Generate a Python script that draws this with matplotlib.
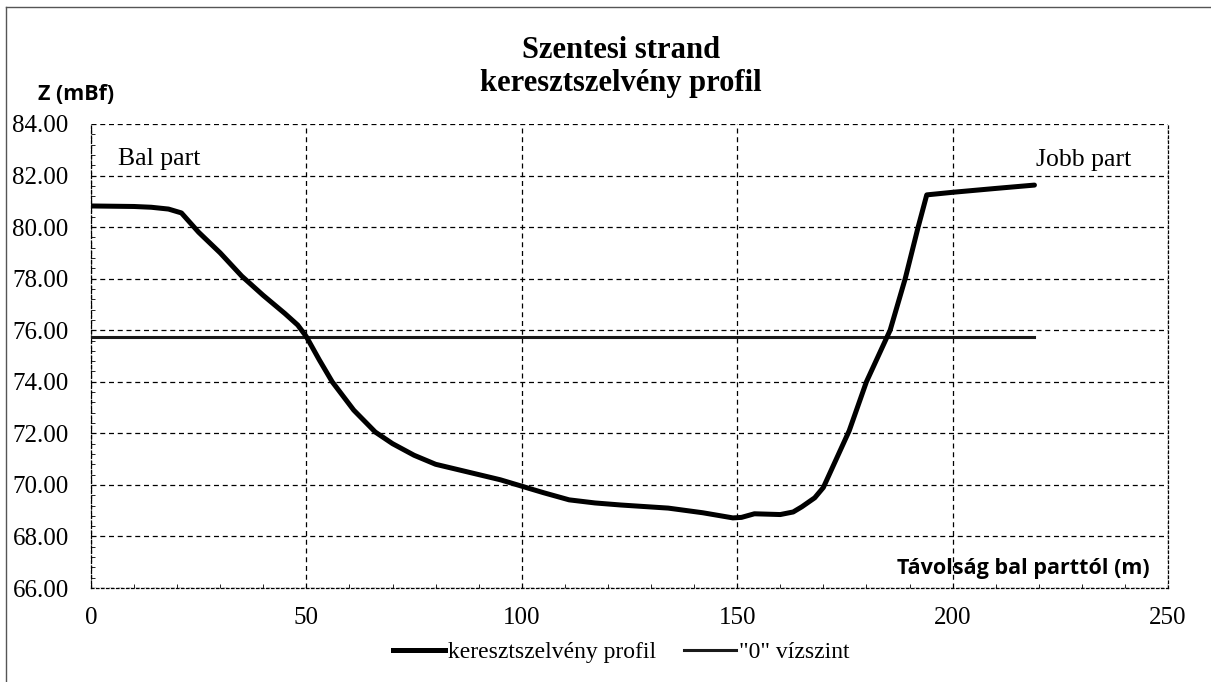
import numpy as np
import matplotlib
matplotlib.use("Agg")
import matplotlib.pyplot as plt
from matplotlib.lines import Line2D
from matplotlib.ticker import MultipleLocator

# =============================================================================
# data
# =============================================================================
dist = [0, 10, 14, 18, 21, 25, 30, 35, 40, 45, 48, 50, 53, 56, 61, 66, 70,
        75, 80, 85, 90, 95, 100, 105, 111, 117, 123, 134, 142, 149, 151, 154,
        160, 163, 165, 168, 170, 173, 176, 180, 185.5, 189, 192, 194, 200,
        210, 219]
elev = [80.82, 80.8, 80.77, 80.7, 80.55, 79.8, 79.0, 78.1, 77.35, 76.65,
        76.2, 75.75, 74.85, 74.0, 72.9, 72.05, 71.6, 71.15, 70.8, 70.6, 70.4,
        70.2, 69.95, 69.7, 69.42, 69.3, 69.22, 69.1, 68.92, 68.72, 68.74,
        68.88, 68.85, 68.95, 69.15, 69.5, 69.9, 71.0, 72.1, 74.0, 76.0, 78.0,
        80.0, 81.25, 81.35, 81.5, 81.63]

zero_x = [0, 219]
zero_y = [75.75, 75.75]

xticks = [0, 50, 100, 150, 200, 250]
yticks = [66, 68, 70, 72, 74, 76, 78, 80, 82, 84]

# =============================================================================
# plot
# =============================================================================
serif = ["Liberation Serif", "DejaVu Serif"]
sans = ["Open Sans", "DejaVu Sans"]

fig = plt.figure(figsize = (12.11, 6.82), dpi = 100)
ax = fig.add_axes([0.0751, 0.1378, 0.8894, 0.6804])

ax.plot(dist, elev, color = "black", lw = 3.6, solid_capstyle = "round",
        solid_joinstyle = "round", zorder = 5, label = "keresztszelvény profil")
ax.plot(zero_x, zero_y, color = "#1a1a1a", lw = 2.2, zorder = 4,
        label = '"0" vízszint')

ax.set_xlim(0, 250)
ax.set_ylim(66, 84)
ax.set_xticks(xticks)
ax.set_yticks(yticks)
ax.set_xticklabels([str(t) for t in xticks], family = serif, fontsize = 18)
ax.set_yticklabels(["%.2f" % t for t in yticks], family = serif, fontsize = 18)
ax.xaxis.set_minor_locator(MultipleLocator(10))
ax.yaxis.set_minor_locator(MultipleLocator(0.4))
ax.tick_params(which = "major", length = 0)
ax.tick_params(axis = "y", pad = 16)
ax.tick_params(axis = "x", pad = 14)
ax.tick_params(which = "minor", direction = "in", length = 3, width = 0.6)

ax.grid(True, which = "major", color = "black", lw = 0.9,
        linestyle = (0, (4, 3)))
for s in ax.spines.values():
    s.set_linestyle((0, (2, 2)))
    s.set_linewidth(0.9)
ax.spines["top"].set_visible(False)

# labels
fig.text(0.513, 1 - 50 / 682, "Szentesi strand", ha = "center", va = "center",
         family = serif, fontsize = 22, fontweight = "bold")
fig.text(0.513, 1 - 83 / 682, "keresztszelvény profil", ha = "center",
         va = "center", family = serif, fontsize = 22, fontweight = "bold")
fig.text(38 / 1211, 1 - 95 / 682, "Z (mBf)", ha = "left", va = "center",
         family = sans, fontsize = 15.5, fontweight = "bold")

ax.text(6.2, 82.66, "Bal part", family = serif, fontsize = 18.5,
        ha = "left", va = "center")
ax.text(219.3, 82.62, "Jobb part", family = serif, fontsize = 18.5,
        ha = "left", va = "center")
ax.text(245.7, 66.74, "Távolság bal parttól (m)", family = sans,
        fontsize = 15.5, fontweight = "bold", ha = "right", va = "center")

# legend
handles = [Line2D([], [], color = "black", lw = 3.6),
           Line2D([], [], color = "#1a1a1a", lw = 2.2)]
fig.legend(handles, ["keresztszelvény profil", '"0" vízszint'],
           loc = "center", bbox_to_anchor = (0.513, 0.043), ncol = 2,
           frameon = False, handlelength = 2.2, handletextpad = 0.1,
           columnspacing = 1.2, prop = {"family": serif, "size": 17})

# outer chart border from the scan
fig.add_artist(Line2D([0.005, 0.005], [0, 0.99], transform = fig.transFigure,
                      color = "#555555", lw = 1.0))
fig.add_artist(Line2D([0.005, 1.0], [0.99, 0.99], transform = fig.transFigure,
                      color = "#555555", lw = 1.0))

fig.savefig("out.png", dpi = 100, facecolor = "white")
